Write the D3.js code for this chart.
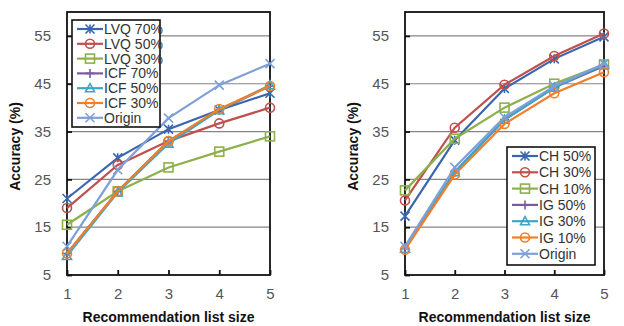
<!DOCTYPE html>
<html>
<head>
<meta charset="utf-8">
<script src="https://cdn.jsdelivr.net/npm/d3@7"></script>
<style>
  body { margin: 0; background: #fff; }
  svg { font-family: "Liberation Sans", Arial, sans-serif; }
</style>
</head>
<body>
<svg id="chart" width="624" height="326"></svg>
<script>
// list sizes on the x axis
const listSizes = [1, 2, 3, 4, 5]
const yTicks = [5, 15, 25, 35, 45, 55]

// left panel
const leftNames = ['LVQ 70%', 'LVQ 50%', 'LVQ 30%', 'ICF 70%', 'ICF 50%', 'ICF 30%', 'Origin']
const lvq70 = [21, 29.5, 35.5, 39.5, 43]
const lvq50 = [19, 28, 33, 36.7, 40]
const lvq30 = [15.5, 22.5, 27.5, 30.8, 34]
const icf70 = [9.5, 22.5, 33, 39.5, 44.5]
const icf50 = [9, 22.3, 32.5, 39.5, 44.7]
const icf30 = [9.5, 22.5, 33, 39.7, 44.5]
const originL = [11, 27, 37.8, 44.7, 49.2]

// right panel
const rightNames = ['CH 50%', 'CH 30%', 'CH 10%', 'IG  50%', 'IG  30%', 'IG  10%', 'Origin']
const ch50 = [17.3, 33.2, 44, 50.2, 54.8]
const ch30 = [20.6, 35.8, 44.8, 50.8, 55.5]
const ch10 = [22.7, 33.5, 40, 45, 49]
const ig50 = [10.5, 26.5, 37.5, 44.2, 48.7]
const ig30 = [10.5, 26.5, 37.5, 44.2, 49]
const ig10 = [10.3, 26, 36.6, 43, 47.4]
const originR = [11, 27.5, 38, 44.5, 49.2]

const colors = ['#3a66ae', '#c0504d', '#8db04a', '#7a5aa0', '#3fa6c2', '#f07f2a', '#7f9fd8']
const markers = ['star', 'circle', 'square', 'plus', 'triangle', 'circle', 'x']

const svg = d3.select('#chart')

function marker(g, type, x, y, color) {
  const r = 4.5
  if (type === 'circle') {
    g.append('circle').attr('cx', x).attr('cy', y).attr('r', r)
      .attr('fill', 'none').attr('stroke', color).attr('stroke-width', 1.6)
  } else if (type === 'square') {
    g.append('rect').attr('x', x - r).attr('y', y - r).attr('width', 2 * r).attr('height', 2 * r)
      .attr('fill', 'none').attr('stroke', color).attr('stroke-width', 1.6)
  } else if (type === 'triangle') {
    g.append('path').attr('d', `M${x},${y - r}L${x + r},${y + r * 0.8}L${x - r},${y + r * 0.8}Z`)
      .attr('fill', 'none').attr('stroke', color).attr('stroke-width', 1.6)
  } else if (type === 'plus') {
    g.append('path').attr('d', `M${x - r},${y}H${x + r}M${x},${y - r}V${y + r}`)
      .attr('stroke', color).attr('stroke-width', 1.6)
  } else if (type === 'x') {
    g.append('path').attr('d', `M${x - r},${y - r}L${x + r},${y + r}M${x - r},${y + r}L${x + r},${y - r}`)
      .attr('stroke', color).attr('stroke-width', 1.6)
  } else if (type === 'star') {
    g.append('path').attr('d', `M${x - r},${y - r}L${x + r},${y + r}M${x - r},${y + r}L${x + r},${y - r}M${x},${y - r}V${y + r}`)
      .attr('stroke', color).attr('stroke-width', 1.6)
  }
}

function drawPanel(opt) {
  const { left, right, names, series, legend } = opt
  const top = 12, bottom = 275
  const x = d3.scaleLinear().domain([1, 5]).range([left, right])
  const y = d3.scaleLinear().domain([5, 60]).range([bottom, top])
  const g = svg.append('g')

  // gridlines
  g.selectAll('.grid').data(yTicks.slice(1)).enter().append('line')
    .attr('x1', left).attr('x2', right)
    .attr('y1', d => y(d)).attr('y2', d => y(d))
    .attr('stroke', '#858585').attr('stroke-width', 1.2)

  // frame
  g.append('rect').attr('x', left).attr('y', top).attr('width', right - left).attr('height', bottom - top)
    .attr('fill', 'none').attr('stroke', '#111').attr('stroke-width', 1.8)

  // y axis
  const yAxis = d3.axisLeft(y).tickValues(yTicks).tickSize(-5).tickPadding(16)
  const ya = g.append('g').attr('transform', `translate(${left},0)`).call(yAxis)
  ya.select('.domain').remove()
  ya.selectAll('line').attr('stroke', '#111').attr('stroke-width', 1.8)
  ya.selectAll('text').attr('fill', '#555').attr('font-size', 15).attr('font-family', 'Liberation Sans, Arial')

  // x axis
  const xAxis = d3.axisBottom(x).tickValues(listSizes).tickSize(-5).tickPadding(13).tickFormat(d3.format('d'))
  const xa = g.append('g').attr('transform', `translate(0,${bottom})`).call(xAxis)
  xa.select('.domain').remove()
  xa.selectAll('line').attr('stroke', '#111').attr('stroke-width', 1.8)
  xa.selectAll('text').attr('fill', '#555').attr('font-size', 15).attr('font-family', 'Liberation Sans, Arial')

  // titles
  g.append('text').attr('x', (left + right) / 2).attr('y', 322).attr('text-anchor', 'middle')
    .attr('font-size', 14).attr('font-weight', 'bold').attr('fill', '#111')
    .text('Recommendation list size')
  g.append('text').attr('transform', `translate(${left - 47},${(top + bottom) / 2 + 3}) rotate(-90)`)
    .attr('text-anchor', 'middle').attr('font-size', 14).attr('font-weight', 'bold').attr('fill', '#111')
    .text('Accuracy (%)')

  // series
  const line = d3.line().x((d, i) => x(listSizes[i])).y(d => y(d))
  series.forEach((s, k) => {
    const sg = g.append('g')
    sg.append('path').datum(s).attr('d', line).attr('fill', 'none')
      .attr('stroke', colors[k]).attr('stroke-width', 2.2)
    s.forEach((v, i) => marker(sg, markers[k], x(listSizes[i]), y(v), colors[k]))
  })

  // legend
  const lg = g.append('g')
  lg.append('rect').attr('x', legend.x).attr('y', legend.y).attr('width', legend.w).attr('height', legend.h)
    .attr('fill', '#fff').attr('stroke', '#111').attr('stroke-width', 1.6)
  names.forEach((n, k) => {
    const yy = legend.y + 9 + k * legend.step
    const x0 = legend.x + 5
    lg.append('line').attr('x1', x0).attr('x2', x0 + 26).attr('y1', yy).attr('y2', yy)
      .attr('stroke', colors[k]).attr('stroke-width', 2.2)
    marker(lg, markers[k], x0 + 13, yy, colors[k])
    lg.append('text').attr('x', x0 + 27).attr('y', yy + 5).attr('font-size', 14).attr('fill', '#333')
      .text(n)
  })
}

drawPanel({
  left: 67, right: 270, names: leftNames,
  series: [lvq70, lvq50, lvq30, icf70, icf50, icf30, originL],
  legend: { x: 72, y: 20, w: 88, h: 107, step: 14.8 }
})
drawPanel({
  left: 405, right: 604, names: rightNames,
  series: [ch50, ch30, ch10, ig50, ig30, ig10, originR],
  legend: { x: 507, y: 147, w: 88, h: 118, step: 16.3 }
})
</script>
</body>
</html>
